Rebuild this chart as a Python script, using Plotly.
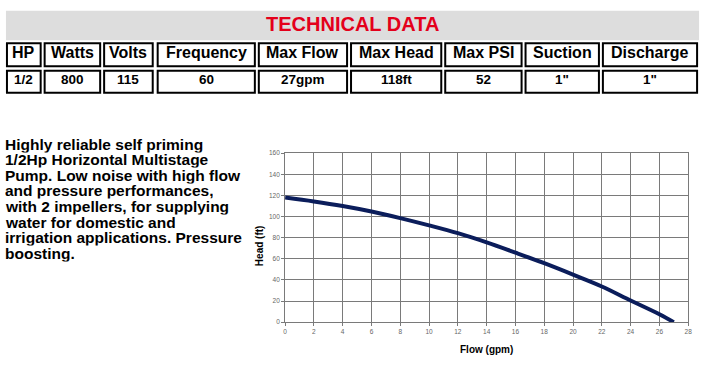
import plotly.graph_objects as go

# ---------------- data ----------------
title_text = "TECHNICAL DATA"
spec_headers = ["HP", "Watts", "Volts", "Frequency", "Max Flow", "Max Head", "Max PSI", "Suction", "Discharge"]
spec_values = ["1/2", "800", "115", "60", "27gpm", "118ft", "52", "1\"", "1\""]

description_lines = [
    "Highly reliable self priming",
    "1/2Hp Horizontal Multistage",
    "Pump. Low noise with high flow",
    "and pressure performances,",
    "with 2 impellers, for supplying",
    "water for domestic and",
    "irrigation applications. Pressure",
    "boosting.",
]

flow_gpm = [0, 2, 4, 6, 8, 10, 12, 14, 16, 18, 20, 22, 24, 26, 27]
head_ft = [118, 114.3, 110, 104.8, 98.5, 91.6, 84.2, 75.5, 65.8, 55.8, 45, 33.8, 20.5, 7.5, 0]

x_ticks = list(range(0, 29, 2))
y_ticks = list(range(0, 161, 20))

# ---------------- layout helpers ----------------
W, H = 712, 370
FONT = "Liberation Sans, Arial, sans-serif"
TXT_DY = -2.5  # visual correction for middle-anchored text


def px(x):
    return x / W


def py(y):
    return 1 - y / H


# table column pixel extents (outer borders)
col_edges = [(4, 40), (42, 100), (102, 153), (156, 256), (258, 349),
             (351, 444), (446, 525), (527, 603), (605, 702)]
header_row = (39, 64.5)
value_row = (67, 91.5)

shapes = []
annotations = []

# gray title band
shapes.append(dict(type="rect", xref="paper", yref="paper",
                   x0=px(4), x1=px(703), y0=py(37), y1=py(7),
                   fillcolor="#dddddd", line=dict(width=0)))
annotations.append(dict(text="<b>" + title_text + "</b>", xref="paper", yref="paper",
                        x=px(353.5), y=py(22.5 + TXT_DY), xanchor="center", yanchor="middle",
                        showarrow=False, font=dict(family=FONT, size=20, color="#e4001b")))

for (x0, x1), hdr, val in zip(col_edges, spec_headers, spec_values):
    for (r0, r1), txt, fs in ((header_row, hdr, 16), (value_row, val, 13.5)):
        shapes.append(dict(type="rect", xref="paper", yref="paper",
                           x0=px(x0 + 1), x1=px(x1 - 1), y0=py(r1 - 1), y1=py(r0 + 1),
                           fillcolor="white", line=dict(color="black", width=2)))
        annotations.append(dict(text="<b>" + txt + "</b>", xref="paper", yref="paper",
                                x=px((x0 + x1) / 2), y=py((r0 + r1) / 2 + 0.5 + TXT_DY),
                                xanchor="center", yanchor="middle", showarrow=False,
                                font=dict(family=FONT, size=fs, color="black")))

# description text, one annotation per line
for i, line in enumerate(description_lines):
    annotations.append(dict(text="<b>" + line + "</b>", xref="paper", yref="paper",
                            x=px(2), y=py(146 + 15.86 * i + TXT_DY), xanchor="left", yanchor="middle",
                            height=15.5, valign="middle", borderpad=0,
                            showarrow=False, font=dict(family=FONT, size=15.5, color="black")))

# axis titles
annotations.append(dict(text="<b>Flow (gpm)</b>", xref="paper", yref="paper",
                        x=px(489), y=py(353 + TXT_DY / 2), xanchor="center", yanchor="middle",
                        showarrow=False, font=dict(family=FONT, size=10, color="black")))
annotations.append(dict(text="<b>Head (ft)</b>", xref="paper", yref="paper",
                        x=px(260), y=py(246), xanchor="center", yanchor="middle",
                        textangle=-90, showarrow=False,
                        font=dict(family=FONT, size=10, color="black")))

fig = go.Figure()
fig.add_trace(go.Scatter(x=flow_gpm, y=head_ft, mode="lines",
                         line=dict(color="#0b1d5b", width=4, shape="spline"),
                         hoverinfo="x+y", showlegend=False))

grid = "#7a7a7a"
axis_common = dict(
    showgrid=True, gridcolor=grid, gridwidth=1,
    showline=True, linecolor=grid, linewidth=1, mirror=True,
    ticks="outside", ticklen=3, tickcolor=grid, tickwidth=1,
    tickfont=dict(family=FONT, size=6.5, color="#666666"),
    zeroline=False, fixedrange=True,
)
fig.update_layout(
    width=W, height=H, autosize=False,
    margin=dict(l=0, r=0, t=0, b=0),
    paper_bgcolor="white", plot_bgcolor="white",
    shapes=shapes, annotations=annotations,
    xaxis=dict(domain=[px(285.5), px(692)], range=[0, 28], tickmode="array",
               tickvals=x_ticks, **axis_common),
    yaxis=dict(domain=[1 - 324.3 / H, 1 - 152 / H], range=[0, 160], tickmode="array",
               tickvals=y_ticks, **axis_common),
)

fig.write_html("out.html", config={"displayModeBar": False},
               post_script="document.body.style.margin='0';")
